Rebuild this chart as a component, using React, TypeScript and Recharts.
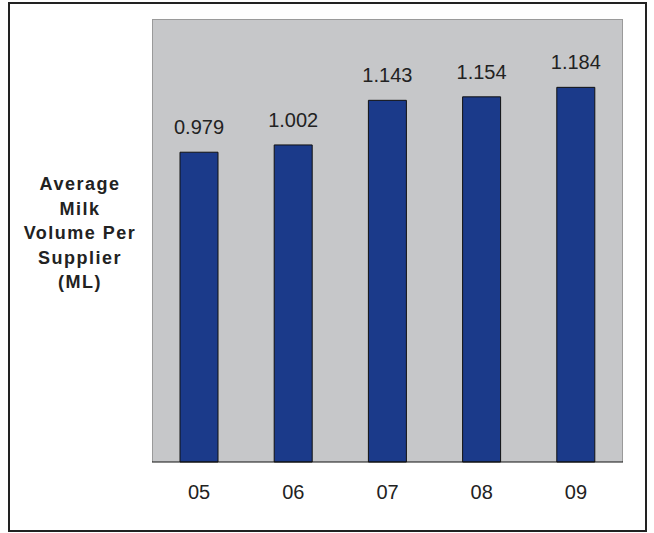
import { BarChart, Bar, XAxis, YAxis, CartesianGrid, LabelList } from 'recharts';

const years = ['05', '06', '07', '08', '09'];
const volumes = [0.979, 1.002, 1.143, 1.154, 1.184];
const edgeTicks = [0, 1, 2, 3, 4, 5];
const yLabelLines = ['Average', 'Milk', 'Volume Per', 'Supplier', '(ML)'];

const data = years.map((year, i) => ({ year, value: volumes[i] }));

const FONT = '"Liberation Sans", Arial, sans-serif';

export default function App() {
  return (
    <div style={{ position: 'absolute', left: 0, top: 0, width: 654, height: 533, background: '#fff', fontFamily: FONT }}>
      <div
        style={{
          position: 'absolute',
          left: 8,
          top: 2,
          width: 639,
          height: 530,
          border: '2px solid #222',
          boxSizing: 'border-box',
        }}
      />
      <div
        style={{
          position: 'absolute',
          left: 20,
          top: 172,
          width: 120,
          textAlign: 'center',
          fontWeight: 'bold',
          fontSize: 18,
          lineHeight: '24.5px',
          letterSpacing: 1.5,
          color: '#222',
        }}
      >
        {yLabelLines.map((line) => (
          <div key={line}>{line}</div>
        ))}
      </div>
      <div style={{ position: 'absolute', left: 0, top: 0 }}>
        <BarChart
          width={654}
          height={533}
          data={data}
          margin={{ top: 19, right: 31, bottom: 40, left: 152 }}
        >
          <CartesianGrid
            xAxisId={1}
            fill="#C6C7C9"
            fillOpacity={1}
            stroke="#9a9a9a"
            horizontalCoordinatesGenerator={({ offset }: any) => [offset.top + 0.5]}
            verticalCoordinatesGenerator={({ offset }: any) => [offset.left + 0.5, offset.left + offset.width - 0.5]}
          />
          <YAxis hide domain={[0, 1.4]} />
          {/* tick marks sit on the category boundaries, so they come from a number axis */}
          <XAxis
            xAxisId={0}
            type="number"
            domain={[0, 5]}
            ticks={edgeTicks}
            tick={false}
            height={1}
            tickSize={5}
            axisLine={{ stroke: '#111' }}
            tickLine={{ stroke: '#111' }}
          />
          <XAxis
            xAxisId={1}
            dataKey="year"
            height={30}
            axisLine={false}
            tickLine={false}
            tickSize={6}
            tickMargin={16}
            tick={{ fill: '#222', fontSize: 20, fontFamily: FONT }}
          />
          <Bar xAxisId={1} dataKey="value" fill="#1B3A8A" stroke="#111" strokeWidth={1} barSize={38} isAnimationActive={false}>
            <LabelList
              dataKey="value"
              position="top"
              offset={18}
              formatter={(v: number) => v.toFixed(3)}
              style={{ fill: '#222', fontSize: 20, fontFamily: FONT }}
            />
          </Bar>
        </BarChart>
      </div>
    </div>
  );
}
